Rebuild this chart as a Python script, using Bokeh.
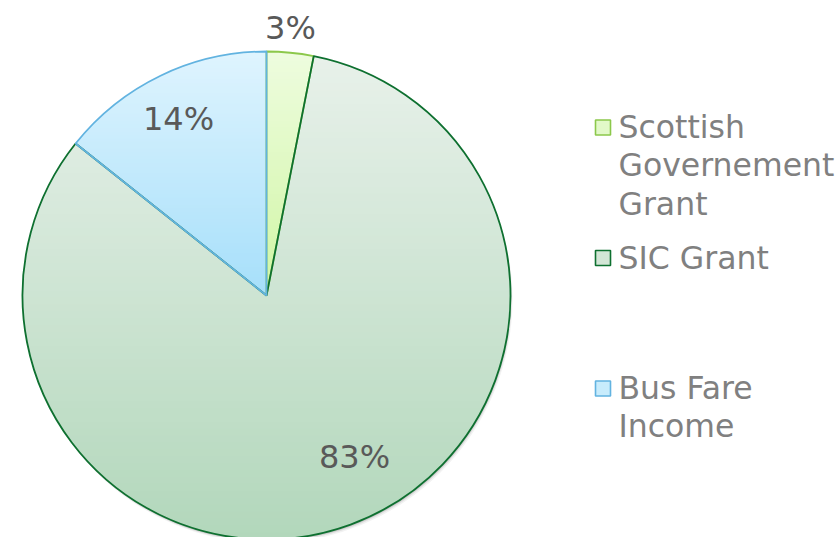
import numpy as np
from bokeh.plotting import figure
from bokeh.models import Range1d, ColumnDataSource
from bokeh.embed import file_html
from bokeh.resources import INLINE
from bokeh.core.properties import value

# ---- data ----
categories = ["Scottish Governement Grant", "SIC Grant", "Bus Fare Income"]
shares = [3.1, 82.6, 14.3]
legend_lines = [["Scottish", "Governement", "Grant"], ["SIC Grant"], ["Bus Fare", "Income"]]

# ---- styles / layout ----
grad_top = ["#eefcdf", "#e8f1ea", "#dff4fe"]
grad_bottom = ["#d0f6a4", "#b2d7bb", "#a6dffa"]
legend_fills = ["#e2f9c8", "#d3e6d6", "#c8ecfc"]
borders = ["#8cc84b", "#0e7030", "#62b3e0"]
FONT = "DejaVu Sans"
W, H = 840, 537
cx, cy, r = 266, 242, 244
label_dx = [24, 88, -88]
label_dy = [267.5, -161, 176.5]
leg_marker_x = 602.5
leg_marker_y = [410, 279.5, 149]
leg_text_x = 618
leg_first_baseline = [411, 280, 150]
line_step = 38.5

p = figure(width=W, height=H, x_range=Range1d(0, W), y_range=Range1d(0, H),
           output_backend="svg", toolbar_location=None, min_border=0,
           x_axis_location=None, y_axis_location=None)
p.grid.visible = False
p.outline_line_color = None
p.background_fill_color = "white"
p.border_fill_color = "white"

frac = np.array(shares) / np.sum(shares)
cum = np.cumsum(frac)
starts = np.pi / 2 - 2 * np.pi * (cum - frac)
ends = np.pi / 2 - 2 * np.pi * cum


def hex2rgb(h):
    h = h.lstrip("#")
    return np.array([int(h[i:i + 2], 16) for i in (0, 2, 4)], dtype=float)


def rgb2hex(c):
    return "#%02x%02x%02x" % tuple(int(round(v)) for v in c)


def clip(poly, keep, cross):
    out = []
    n = len(poly)
    for k in range(n):
        a, b = poly[k - 1], poly[k]
        ia, ib = keep(a), keep(b)
        if ib:
            if not ia:
                out.append(cross(a, b))
            out.append(b)
        elif ia:
            out.append(cross(a, b))
    return out


def cut_y(y0):
    def cross(a, b):
        t = (y0 - a[1]) / (b[1] - a[1])
        return (a[0] + t * (b[0] - a[0]), y0)
    return cross


# soft shadow
for off, a in [(4.0, 0.05), (2.5, 0.08), (1.5, 0.10)]:
    p.circle(x=[cx + off * 0.5], y=[cy - off], radius=r, fill_color="#000000",
             fill_alpha=a, line_color=None)

# gradient fill of each slice (horizontal bands clipped to the slice shape)
bxs, bys, bcols = [], [], []
NB = 70
for i in range(len(shares)):
    ang = np.linspace(starts[i], ends[i], max(8, int(abs(ends[i] - starts[i]) * 80)))
    poly = [(cx, cy)] + [(cx + r * np.cos(t), cy + r * np.sin(t)) for t in ang]
    ys_ = [q[1] for q in poly]
    ymin, ymax = min(ys_), max(ys_)
    edges = np.linspace(ymax, ymin, NB + 1)
    c0, c1 = hex2rgb(grad_top[i]), hex2rgb(grad_bottom[i])
    for k in range(NB):
        hi, lo = edges[k] + 0.4, edges[k + 1] - 0.4
        pp = clip(poly, lambda q, lo=lo: q[1] >= lo, cut_y(lo))
        if len(pp) < 3:
            continue
        pp = clip(pp, lambda q, hi=hi: q[1] <= hi, cut_y(hi))
        if len(pp) < 3:
            continue
        t = (k + 0.5) / NB
        bxs.append([q[0] for q in pp])
        bys.append([q[1] for q in pp])
        bcols.append(rgb2hex(c0 + (c1 - c0) * t))
p.patches(xs=bxs, ys=bys, fill_color=bcols, line_color=None)

src = ColumnDataSource(dict(cat=categories, start=starts, end=ends, border=borders))
p.wedge(x=cx, y=cy, radius=r, start_angle="start", end_angle="end",
        direction="clock", fill_color=None, line_color="border",
        line_width=1.8, source=src)

labels = [f"{round(s)}%" for s in shares]
p.text(x=[cx + d for d in label_dx], y=[cy + d for d in label_dy], text=labels,
       text_font=value(FONT), text_font_size="32px", text_color="#595959",
       text_align="center", text_baseline="middle")

# legend
p.rect(x=[leg_marker_x] * 3, y=leg_marker_y, width=15, height=15,
       fill_color=legend_fills, line_color=borders, line_width=1.6)
tx, ty, tt = [], [], []
for i, lines in enumerate(legend_lines):
    for j, ln in enumerate(lines):
        tx.append(leg_text_x)
        ty.append(leg_first_baseline[i] - j * line_step)
        tt.append(ln)
p.text(x=tx, y=ty, text=tt, text_font=value(FONT), text_font_size="31.5px",
       text_color="#808080", text_align="left", text_baseline="alphabetic")

open("out.html", "w").write(file_html(p, INLINE))
